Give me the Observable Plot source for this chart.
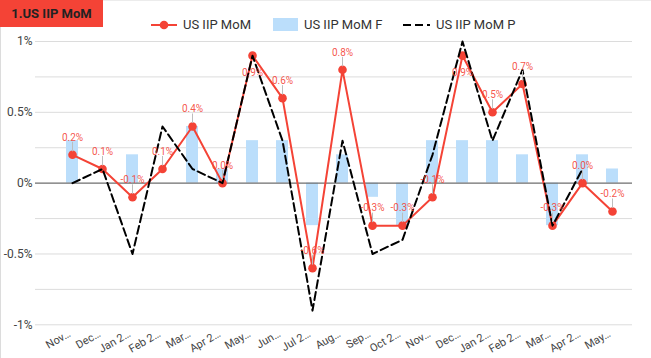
<!DOCTYPE html>
<html>
<head>
<meta charset="utf-8">
<script src="https://cdn.jsdelivr.net/npm/d3@7"></script>
<script src="https://cdn.jsdelivr.net/npm/@observablehq/plot@0.6"></script>
<style>
  html, body { margin: 0; padding: 0; background: #fff; font-family: Roboto, "Noto Sans", sans-serif; }
  #wrap { position: relative; width: 651px; height: 358px; overflow: hidden; }
  #chart { position: absolute; left: 0; top: 0; }
  #frame { position: absolute; left: 0; top: 0; width: 651px; height: 358px; box-sizing: border-box; border-left: 1px solid #dcdcdc; border-top: 1px solid #ececec; pointer-events: none; }
  #title { position: absolute; left: 0; top: 0; width: 103px; height: 27px; background: #f44336; color: #222; font-weight: bold; font-size: 13px; line-height: 27px; text-align: center; }
  .leg { position: absolute; top: 16px; height: 17px; display: flex; align-items: center; font-size: 13px; color: #333; white-space: nowrap; }
  .leg svg { margin-right: 6px; }
</style>
</head>
<body>
<div id="wrap">
  <div id="chart"></div>
  <div id="frame"></div>
  <div id="title"></div>
  <div id="legend"></div>
</div>
<script>
const titleText = "1.US IIP MoM";
const seriesNames = ["US IIP MoM", "US IIP MoM F", "US IIP MoM P"];
const months = ["Nov…", "Dec…", "Jan 2…", "Feb 2…", "Mar…", "Apr 2…", "May…", "Jun…", "Jul 2…", "Aug…",
                "Sep…", "Oct 2…", "Nov…", "Dec…", "Jan 2…", "Feb 2…", "Mar…", "Apr 2…", "May…"];
const momValues = [0.2, 0.1, -0.1, 0.1, 0.4, 0.0, 0.9, 0.6, -0.6, 0.8, -0.3, -0.3, -0.1, 0.9, 0.5, 0.7, -0.3, 0.0, -0.2];
const momF = [0.3, null, 0.2, null, 0.4, 0.1, 0.3, 0.3, -0.3, 0.2, -0.1, -0.3, 0.3, 0.3, 0.3, 0.2, -0.3, 0.2, 0.1];
const momP = [0.0, 0.1, -0.5, 0.4, 0.1, 0.0, 0.9, 0.3, -0.9, 0.3, -0.5, -0.4, 0.2, 1.0, 0.3, 0.8, -0.3, 0.1, null];
const yTicks = [-1, -0.5, 0, 0.5, 1];
const yTickLabels = ["-1%", "-0.5%", "0%", "0.5%", "1%"];
const gridLevels = [-1, -0.75, -0.5, -0.25, 0.25, 0.5, 0.75, 1];

const RED = "#f44336", BLUE = "#bbdefb";

const rows = months.map((m, i) => ({idx: i, m, mom: momValues[i], f: momF[i], p: momP[i]}));
const xDomain = rows.map(d => d.idx);
const fmt = v => v.toFixed(1) + "%";
const above = rows.filter(d => d.mom < 0.9);
const below = rows.filter(d => d.mom >= 0.9);

const chart = Plot.plot({
  width: 651,
  height: 358,
  marginLeft: 51.4,
  marginRight: 19,
  marginTop: 41,
  marginBottom: 33.7,
  style: {fontFamily: "Roboto, sans-serif", background: "transparent"},
  x: {type: "band", domain: xDomain, padding: 0},
  y: {domain: [-1, 1]},
  marks: [
    Plot.ruleY(gridLevels, {stroke: "#dcdcdc", strokeWidth: 1, insetLeft: -16.4}),
    Plot.barY(rows.filter(d => d.f != null), {x: "idx", y: "f", fill: BLUE, insetLeft: 9, insetRight: 9}),
    Plot.ruleY([0], {stroke: "#6e6e6e", strokeWidth: 1.2, insetLeft: -16.4}),
    Plot.line(rows, {x: "idx", y: "mom", stroke: RED, strokeWidth: 2}),
    Plot.dot(rows, {x: "idx", y: "mom", r: 4.3, fill: RED, stroke: "none"}),
    Plot.line(rows.filter(d => d.p != null), {x: "idx", y: "p", stroke: "#000", strokeWidth: 2, strokeDasharray: "8,4"}),
    Plot.ruleX(above, {x: "idx", y1: "mom", y2: "mom", stroke: "#bdbdbd", strokeWidth: 1, insetTop: -12.5, insetBottom: 3}),
    Plot.text(above, {x: "idx", y: "mom", text: d => fmt(d.mom), dy: -17.5, fill: RED, fontSize: 10, fillOpacity: 0.9}),
    Plot.text(below, {x: "idx", y: "mom", text: d => fmt(d.mom), dy: 17.5, fill: RED, fontSize: 10, fillOpacity: 0.9}),
    Plot.axisY(yTicks, {tickSize: 0, tickPadding: 19.4, tickFormat: v => yTickLabels[yTicks.indexOf(v)], fontSize: 12, fill: "#444", label: null}),
    Plot.axisX(xDomain, {tickSize: 0, tickPadding: 8, dx: -3, tickRotate: -30, tickFormat: i => months[i], fontSize: 11, fill: "#444", label: null})
  ]
});
document.getElementById("chart").appendChild(chart);

document.getElementById("title").textContent = titleText;

// legend
const legend = document.getElementById("legend");
const legItems = [
  {left: 151, swatch: `<svg width="26" height="12"><line x1="0" y1="6" x2="26" y2="6" stroke="${RED}" stroke-width="2"/><circle cx="13" cy="6" r="4.3" fill="${RED}"/></svg>`},
  {left: 273, swatch: `<svg width="25" height="13"><rect x="0" y="0" width="25" height="13" fill="${BLUE}"/></svg>`},
  {left: 403, swatch: `<svg width="27" height="12"><line x1="0" y1="6" x2="27" y2="6" stroke="#000" stroke-width="2" stroke-dasharray="8,4"/></svg>`}
];
legItems.forEach((it, i) => {
  const d = document.createElement("div");
  d.className = "leg";
  d.style.left = it.left + "px";
  d.innerHTML = it.swatch + "<span></span>";
  d.querySelector("span").textContent = seriesNames[i];
  legend.appendChild(d);
});
</script>
</body>
</html>
